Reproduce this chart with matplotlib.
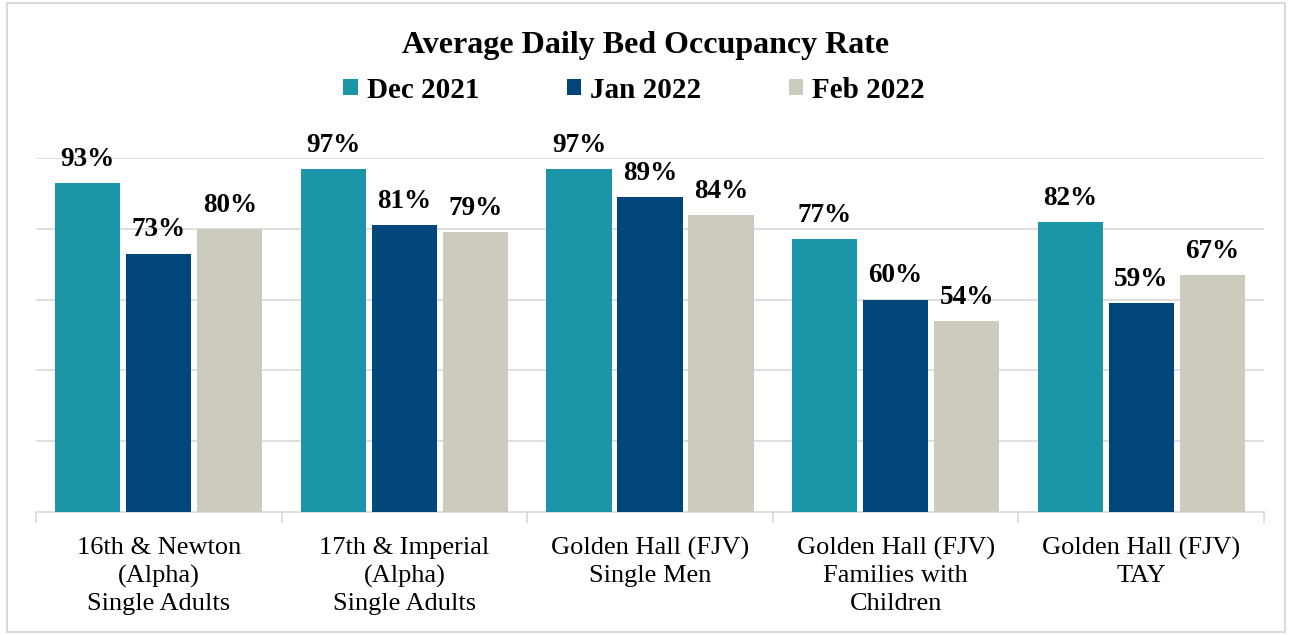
import matplotlib.pyplot as plt
import numpy as np
from matplotlib.patches import Patch, Rectangle

categories = ["16th & Newton\n(Alpha)\nSingle Adults",
              "17th & Imperial\n(Alpha)\nSingle Adults",
              "Golden Hall (FJV)\nSingle Men",
              "Golden Hall (FJV)\nFamilies with\nChildren",
              "Golden Hall (FJV)\nTAY"]
series_names = ["Dec 2021", "Jan 2022", "Feb 2022"]
dec_2021 = [93, 97, 97, 77, 82]
jan_2022 = [73, 81, 89, 60, 59]
feb_2022 = [80, 79, 84, 54, 67]
colors = ["#1B96A8", "#00467A", "#CCCBBD"]

plt.rcParams['font.family'] = ['Liberation Serif', 'DejaVu Serif']

fig = plt.figure(figsize=(12.92, 6.35), dpi=100)
ax = fig.add_axes([36 / 1292, 1 - 512 / 635, (1264 - 36) / 1292, (512 - 158) / 635])

x = np.arange(len(categories))
width = 0.265
step = 0.289
for i, (vals, name) in enumerate(zip([dec_2021, jan_2022, feb_2022], series_names)):
    pos = x + (i - 1) * step
    bars = ax.bar(pos, vals, width, color=colors[i], label=name, zorder=3)
    for b, v in zip(bars, vals):
        ax.annotate(f"{v}%", (b.get_x() + b.get_width() / 2, v),
                    xytext=(0, 8), textcoords="offset points",
                    ha="center", va="bottom", fontsize=19.5, fontweight="bold",
                    annotation_clip=False)

ax.set_xlim(-0.5, len(categories) - 0.5)
ax.set_ylim(0, 100)
ax.set_yticks([20, 40, 60, 80, 100])
ax.yaxis.grid(True, color="#D9D9D9", linewidth=1.2, zorder=0)
ax.tick_params(axis="y", length=0, labelleft=False)
for s in ["top", "right", "left"]:
    ax.spines[s].set_visible(False)
ax.spines["bottom"].set_color("#D9D9D9")
ax.spines["bottom"].set_linewidth(1.2)

# category boundary ticks
ax.set_xticks(np.arange(-0.5, len(categories), 1.0))
ax.set_xticklabels([])
ax.tick_params(axis="x", length=8, color="#D9D9D9", width=1.2)
for xi, lab in zip(x, categories):
    ax.text(xi, -7.0, lab, ha="center", va="top", fontsize=19,
            linespacing=1.33, transform=ax.transData)

fig.text(0.5, 1 - 45 / 635, "Average Daily Bed Occupancy Rate", ha="center",
         va="center", fontsize=23, fontweight="bold")

handles = [Patch(facecolor=c, edgecolor="none") for c in colors]
fig.legend(handles, series_names, loc="center", bbox_to_anchor=(634 / 1292, 1 - 90 / 635),
           ncol=3, frameon=False, handlelength=0.5, handleheight=0.5,
           columnspacing=3.0, handletextpad=0.3,
           prop={"weight": "bold", "size": 21})

fig.patches.append(Rectangle((7 / 1292, 3 / 635), 1 - 14 / 1292, 1 - 6 / 635,
                             transform=fig.transFigure, fill=False,
                             edgecolor="#D9D9D9", linewidth=1.5))

fig.savefig("out.png", dpi=100)
